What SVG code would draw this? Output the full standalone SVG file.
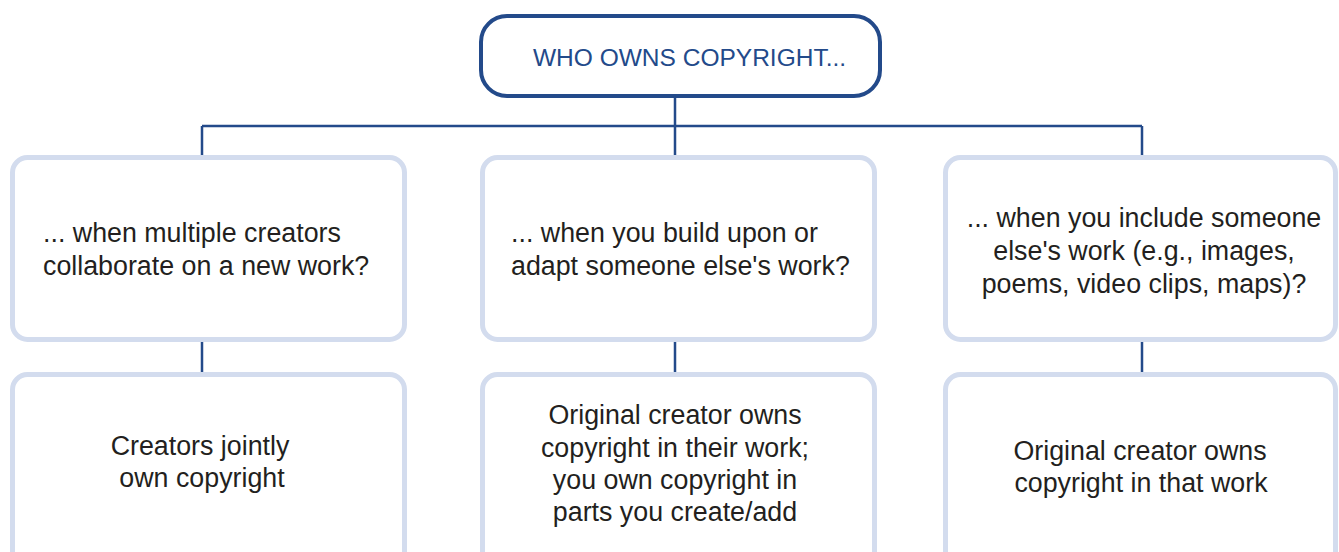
<svg xmlns="http://www.w3.org/2000/svg" width="1339" height="552" viewBox="0 0 1339 552">
<style>
.title{font-family:"Liberation Sans",Arial,sans-serif;font-size:24.5px;fill:#234a8a}
.t{font-family:"Liberation Sans",Arial,sans-serif;font-size:26.8px;fill:#231f20}
.c{text-anchor:middle}
.box{fill:#fff;stroke:#d3dcee;stroke-width:5}
.conn{stroke:#234a8a;stroke-width:2.5;fill:none}
</style>
<rect width="1339" height="552" fill="#fff"/>
<g id="connectors">
<path class="conn" d="M675 98V126M202 126H1142M202 126V156M675 126V156M1142 126V156M202 342V372M675 342V372M1142 342V372"/>
</g>
<g id="root">
<rect x="481" y="16" width="399" height="80" rx="26" fill="#fff" stroke="#234a8a" stroke-width="4"/>
<text class="title" x="533" y="66">WHO OWNS COPYRIGHT...</text>
</g>
<g id="q1">
<rect class="box" x="12.5" y="157.5" width="392" height="182" rx="15"/>
<text class="t" x="43" y="242">... when multiple creators</text>
<text class="t" x="43" y="275">collaborate on a new work?</text>
</g>
<g id="q2">
<rect class="box" x="482.5" y="157.5" width="392" height="182" rx="15"/>
<text class="t" x="511" y="242">... when you build upon or</text>
<text class="t" x="511" y="275">adapt someone else's work?</text>
</g>
<g id="q3">
<rect class="box" x="945.5" y="157.5" width="390" height="182" rx="15"/>
<text class="t c" x="1144" y="227">... when you include someone</text>
<text class="t c" x="1144" y="260">else's work (e.g., images,</text>
<text class="t c" x="1144" y="293">poems, video clips, maps)?</text>
</g>
<g id="a1">
<rect class="box" x="12.5" y="374.5" width="392" height="200" rx="15"/>
<text class="t c" x="200" y="455">Creators jointly</text>
<text class="t c" x="202" y="487">own copyright</text>
</g>
<g id="a2">
<rect class="box" x="482.5" y="374.5" width="392" height="200" rx="15"/>
<text class="t c" x="675" y="424">Original creator owns</text>
<text class="t c" x="675" y="457">copyright in their work;</text>
<text class="t c" x="675" y="489">you own copyright in</text>
<text class="t c" x="675" y="521">parts you create/add</text>
</g>
<g id="a3">
<rect class="box" x="945.5" y="374.5" width="390" height="200" rx="15"/>
<text class="t c" x="1140" y="460">Original creator owns</text>
<text class="t c" x="1141" y="492">copyright in that work</text>
</g>
</svg>
